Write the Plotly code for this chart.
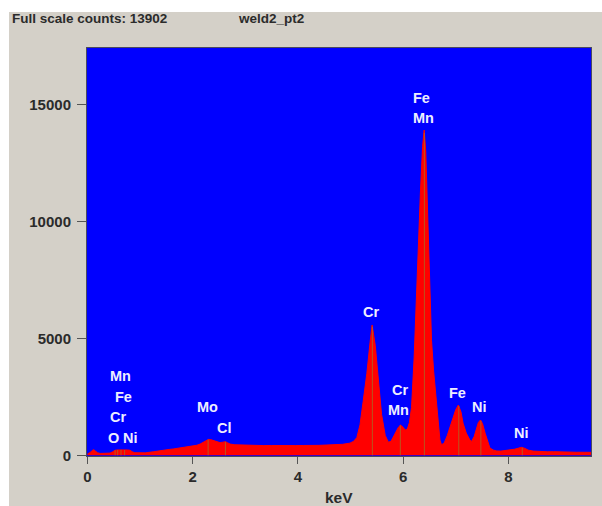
import numpy as np
import plotly.graph_objects as go

# ---- data ----
energy_kev = [0.00, 0.05, 0.09, 0.12, 0.15, 0.19, 0.24, 0.30, 0.36, 0.43, 0.48, 0.52, 0.57, 0.64, 0.70,
              0.76, 0.81, 0.85, 0.90, 1.00, 1.10, 1.25, 1.35, 1.44, 1.55, 1.63, 1.72, 1.82, 1.92, 2.01,
              2.08, 2.14, 2.20, 2.25, 2.30, 2.34, 2.38, 2.42, 2.47, 2.52, 2.57, 2.62, 2.66, 2.71, 2.80,
              2.90, 3.00, 3.10, 3.22, 3.35, 3.50, 3.65, 3.80, 3.95, 4.10, 4.25, 4.40, 4.55, 4.70, 4.85,
              4.99, 5.06, 5.12, 5.18, 5.24, 5.31, 5.37, 5.41, 5.47, 5.53, 5.59, 5.66, 5.72, 5.77, 5.81,
              5.86, 5.91, 5.95, 6.00, 6.04, 6.08, 6.12, 6.16, 6.21, 6.25, 6.29, 6.33, 6.37, 6.40, 6.43,
              6.46, 6.50, 6.54, 6.58, 6.62, 6.66, 6.70, 6.73, 6.78, 6.84, 6.89, 6.95, 7.00, 7.05, 7.10,
              7.14, 7.20, 7.27, 7.30, 7.35, 7.39, 7.43, 7.47, 7.51, 7.56, 7.61, 7.65, 7.72, 7.78, 7.86,
              7.95, 8.03, 8.12, 8.20, 8.25, 8.31, 8.38, 8.47, 8.60, 8.75, 8.86, 9.00, 9.15, 9.30, 9.45,
              9.58]
counts = [60, 120, 210, 240, 180, 110, 80, 75, 80, 95, 150, 215, 230, 235, 225,
          230, 215, 150, 110, 95, 105, 150, 190, 235, 250, 270, 300, 340, 370, 400,
          430, 480, 560, 640, 680, 670, 640, 600, 560, 540, 560, 580, 540, 480, 450,
          440, 425, 435, 430, 415, 420, 410, 425, 415, 420, 410, 425, 440, 450, 470,
          520, 600, 760, 1300, 2300, 3500, 4800, 5570, 4700, 3150, 1750, 850, 560, 600, 780,
          1000, 1200, 1290, 1200, 1080, 1120, 1400, 2050, 4200, 6700, 8500, 11300, 13200, 13900, 13000,
          10800, 7100, 4900, 3600, 2600, 1400, 650, 450, 520, 850, 1220, 1650, 1950, 2150, 1850,
          1370, 950, 650, 590, 800, 1100, 1400, 1510, 1350, 940, 560, 310, 220, 185, 180,
          200, 230, 260, 310, 340, 300, 220, 180, 160, 150, 155, 140, 135, 130, 130,
          125]

# element marker line energies (keV)
marker_kev = [0.525, 0.573, 0.637, 0.705, 2.293, 2.622, 5.415, 5.947, 6.404, 7.058, 7.478, 8.265]

# element labels: text, keV, counts position
label_text = ["Fe", "Mn", "Cr", "Cr", "Mn", "Fe", "Ni", "Ni", "Mn", "Fe", "Cr", "O", "Ni", "Mo", "Cl"]
label_kev = [6.35, 6.38, 5.39, 5.94, 5.91, 7.03, 7.46, 8.25, 0.62, 0.69, 0.57, 0.49, 0.82, 2.28, 2.60]
label_cnt = [15260, 14400, 6140, 2790, 1940, 2680, 2080, 940, 3390, 2500, 1650, 730, 730, 2050, 1180]

x_ticks = [0, 2, 4, 6, 8]
y_ticks = [0, 5000, 10000, 15000]
header_left = "Full scale counts: 13902"
header_name = "weld2_pt2"
x_title = "keV"

# ---- figure ----
GRAY = "#d4d0c8"
TXT = "#2b2b2b"
FONT = "Liberation Sans, Arial, sans-serif"
W, H = 602, 506
ML, MR, MT, MB = 87, 11, 48, 50
PW, PH = W - ML - MR, H - MT - MB

fig = go.Figure()
fig.add_trace(go.Scatter(x=energy_kev, y=counts, mode="lines", fill="tozeroy",
                         line=dict(color="#ff0000", width=1), fillcolor="#ff0000",
                         hoverinfo="skip", showlegend=False))

mx, my = [], []
for e in marker_kev:
    h = float(np.interp(e, energy_kev, counts))
    mx += [e, e, None]
    my += [0, h, None]
fig.add_trace(go.Scatter(x=mx, y=my, mode="lines", line=dict(color="#b8561e", width=1),
                         hoverinfo="skip", showlegend=False))

for t, xe, yc in zip(label_text, label_kev, label_cnt):
    fig.add_annotation(x=xe, y=yc, xref="x", yref="y", text="<b>%s</b>" % t, showarrow=False,
                       font=dict(family=FONT, size=14.5, color="#eeeeff"),
                       xanchor="center", yanchor="middle")

def px_x(p):
    return (p - ML) / PW

def px_y(p):
    return (H - MB - p) / PH

fig.add_annotation(x=px_x(10), y=px_y(18), xref="paper", yref="paper", text="<b>%s</b>" % header_left,
                   showarrow=False, xanchor="left", yanchor="middle",
                   font=dict(family=FONT, size=13.5, color=TXT))
fig.add_annotation(x=px_x(236), y=px_y(18), xref="paper", yref="paper", text="<b>%s</b>" % header_name,
                   showarrow=False, xanchor="left", yanchor="middle",
                   font=dict(family=FONT, size=13.5, color=TXT))
fig.add_annotation(x=0.5, y=px_y(497), xref="paper", yref="paper", text="<b>%s</b>" % x_title,
                   showarrow=False, xanchor="center", yanchor="middle",
                   font=dict(family=FONT, size=15.5, color=TXT))

# white strips at top and left edge
fig.add_shape(type="rect", xref="paper", yref="paper", x0=px_x(0), x1=px_x(W), y0=px_y(12), y1=px_y(0),
              fillcolor="white", line=dict(width=0), layer="below")
fig.add_shape(type="rect", xref="paper", yref="paper", x0=px_x(0), x1=px_x(9), y0=px_y(H), y1=px_y(0),
              fillcolor="white", line=dict(width=0), layer="below")

kpx = 52.6
x0 = -0.01
fig.update_layout(
    width=W, height=H, margin=dict(l=ML, r=MR, t=MT, b=MB, pad=0),
    paper_bgcolor=GRAY, plot_bgcolor="#0000ff",
    font=dict(family=FONT, size=13, color=TXT),
    xaxis=dict(range=[x0, x0 + PW / kpx], tickvals=x_ticks, ticktext=["<b>%d</b>" % v for v in x_ticks],
               ticks="outside", ticklen=7, tickcolor="#555555", tickwidth=1,
               showgrid=False, zeroline=False, showline=True, linecolor="#4a4a60", linewidth=1,
               mirror=True, tickfont=dict(family=FONT, size=15, color=TXT)),
    yaxis=dict(range=[-30, 17408], tickvals=y_ticks, ticktext=["<b>%d</b>" % v for v in y_ticks],
               ticks="outside", ticklen=9, tickcolor="#555555", tickwidth=1, ticklabelstandoff=3,
               showgrid=False, zeroline=False, showline=True, linecolor="#4a4a60", linewidth=1,
               mirror=True, tickfont=dict(family=FONT, size=15, color=TXT)),
    hovermode=False,
)

fig.write_html("out.html")
